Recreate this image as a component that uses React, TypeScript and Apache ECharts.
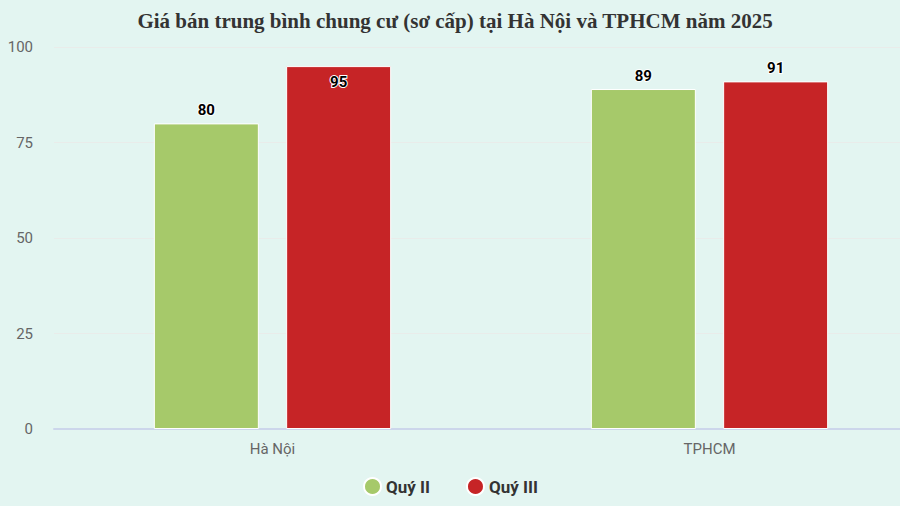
import React, { useEffect, useRef } from "react";
import * as echarts from "echarts";

const categories = ["Hà Nội", "TPHCM"];
const q2Values = [80, 89];
const q3Values = [95, 91];
const seriesNames = ["Quý II", "Quý III"];

const FONT = "'Liberation Sans Narrow', 'Roboto', sans-serif";

const App: React.FC = () => {
  const chartRef = useRef<HTMLDivElement | null>(null);

  useEffect(() => {
    if (!chartRef.current) return;
    const myChart = echarts.init(chartRef.current, undefined, { renderer: "svg" });

    const labelStyle = {
      show: true,
      position: "top" as const,
      distance: 6,
      color: "#000",
      fontSize: 15,
      fontWeight: "bold" as const,
      fontFamily: FONT,
      textBorderColor: "#fff",
      textBorderWidth: 2,
    };

    const option = {
      animation: false,
      backgroundColor: "#e3f5f1",
      title: {
        text: "Giá bán trung bình chung cư (sơ cấp) tại Hà Nội và TPHCM năm 2025",
        left: 450,
        textAlign: "center",
        top: 5,
        textStyle: {
          fontFamily: "'Liberation Serif', serif",
          fontWeight: "bold",
          fontSize: 21,
          color: "#333",
        },
      },
      legend: {
        bottom: 5,
        left: 358,
        icon: "circle",
        itemWidth: 17,
        itemHeight: 17,
        itemGap: 36,
        textStyle: {
          fontFamily: FONT,
          fontSize: 17,
          fontWeight: "bold",
          color: "#333",
        },
        data: seriesNames,
      },
      grid: {
        left: 54,
        right: 0,
        top: 47,
        bottom: 77,
        containLabel: false,
      },
      xAxis: {
        type: "category",
        data: categories,
        axisLine: { lineStyle: { color: "#ccd6eb", width: 2 } },
        axisTick: { show: false },
        axisLabel: {
          color: "#666",
          fontSize: 15,
          margin: 12,
          fontFamily: FONT,
        },
      },
      yAxis: {
        type: "value",
        min: 0,
        max: 100,
        interval: 25,
        axisLine: { show: false },
        axisTick: { show: false },
        splitLine: { lineStyle: { color: "#e9ecea", width: 1 } },
        axisLabel: {
          color: "#666",
          fontSize: 15,
          margin: 21,
          fontFamily: FONT,
        },
      },
      series: [
        {
          name: seriesNames[0],
          type: "bar",
          data: q2Values,
          barWidth: 105,
          barGap: "26%",
          itemStyle: { color: "#a6c96a", borderColor: "#fff", borderWidth: 1 },
          label: labelStyle,
        },
        {
          name: seriesNames[1],
          type: "bar",
          data: q3Values.map((v) =>
            v >= 93
              ? { value: v, label: { position: "insideTop", distance: 8 } }
              : v
          ),
          barWidth: 105,
          itemStyle: { color: "#c62426", borderColor: "#fff", borderWidth: 1 },
          label: labelStyle,
        },
      ],
    };

    myChart.setOption(option);

    return () => {
      myChart.dispose();
    };
  }, []);

  return (
    <div
      style={{
        position: "fixed",
        left: 0,
        top: 0,
        width: "900px",
        height: "506px",
        overflow: "hidden",
      }}
    >
      <div ref={chartRef} style={{ width: "928px", height: "506px" }} />
    </div>
  );
};

export default App;
